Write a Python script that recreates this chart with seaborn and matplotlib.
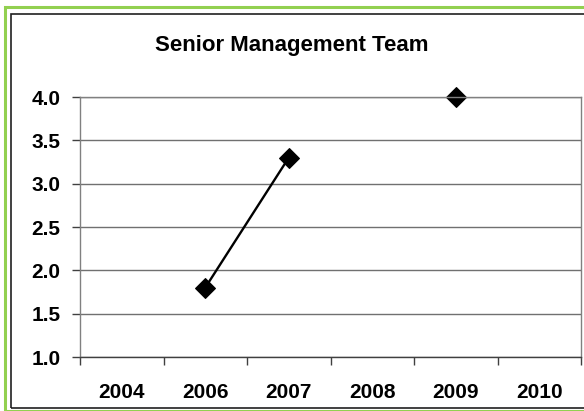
import numpy as np
import pandas as pd
import seaborn as sns
import matplotlib.pyplot as plt
from matplotlib.patches import Rectangle

years = ['2004', '2006', '2007', '2008', '2009', '2010']
scores = [np.nan, 1.8, 3.3, np.nan, 4.0, np.nan]

df = pd.DataFrame({'Year': years, 'Score': scores})
df['Pos'] = np.arange(len(df))
# break the line where values are missing
df['Segment'] = df['Score'].isna().cumsum()
df = df.dropna()

sns.set_style('white')
plt.rcParams['font.family'] = ['Liberation Sans', 'DejaVu Sans']
plt.rcParams['text.color'] = 'black'
plt.rcParams['xtick.color'] = 'black'
plt.rcParams['ytick.color'] = 'black'

fig = plt.figure(figsize=(5.84, 4.11), dpi=100)
ax = fig.add_axes([80 / 584, 54 / 411, 501 / 584, 260 / 411])

sns.lineplot(data=df, x='Pos', y='Score', units='Segment', estimator=None,
             color='black', linewidth=1.7, marker='D', markersize=10.5,
             markeredgecolor='black', clip_on=False, ax=ax)

ax.set_xlim(-0.5, len(years) - 0.5)
ax.set_ylim(1.0, 4.0)
ax.set_xticks(np.arange(len(years) + 1) - 0.5)
ax.set_xticklabels([])
ax.set_xticks(np.arange(len(years)), minor=True)
ax.set_xticklabels(years, minor=True, fontsize=15, fontweight='bold')
ax.tick_params(axis='x', which='major', direction='out', length=6, width=1, color='#404040', bottom=True)
ax.tick_params(axis='x', which='minor', length=0, pad=19)
ax.set_yticks(np.arange(1.0, 4.01, 0.5))
ax.set_yticklabels([f'{v:.1f}' for v in np.arange(1.0, 4.01, 0.5)], fontsize=15, fontweight='bold')
ax.tick_params(axis='y', direction='out', length=6, width=1, color='#404040', left=True, pad=8)
ax.grid(axis='y', color='#707070', linewidth=1)
ax.set_axisbelow(True)
ax.set_xlabel('')
ax.set_ylabel('')
for side in ['top', 'right']:
    ax.spines[side].set_visible(True)
    ax.spines[side].set_color('#808080')
    ax.spines[side].set_linewidth(1)
ax.spines['left'].set_color('#808080')
ax.spines['bottom'].set_color('#404040')
ax.spines['left'].set_linewidth(1)
ax.spines['bottom'].set_linewidth(1)

fig.text(0.5, 1 - 46 / 411, 'Senior Management Team', ha='center', va='center',
         fontsize=16, fontweight='bold')

# outer green frame and inner dark frame
fig.patches.append(Rectangle((5 / 584, 0), 1.0, 1 - 7.5 / 411, transform=fig.transFigure,
                             fill=False, edgecolor='#92D050', linewidth=2.2))
fig.patches.append(Rectangle((11 / 584, 3 / 411), 1.0, 1 - 17 / 411, transform=fig.transFigure,
                             fill=False, edgecolor='#202020', linewidth=1.2))

fig.savefig('out.png', dpi=100)
